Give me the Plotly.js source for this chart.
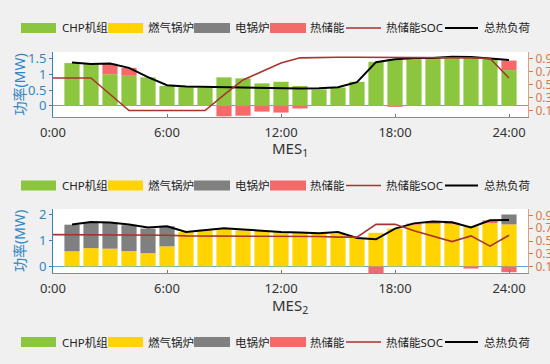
<!DOCTYPE html>
<html><head><meta charset="utf-8">
<script src="https://cdn.plot.ly/plotly-3.0.1.min.js"></script>
<style>html,body{margin:0;padding:0;background:#f0f0f0;} #chart{width:550px;height:364px;}</style>
</head><body><div id="chart"></div>
<script>
// ---- data ----
const hours = [1,2,3,4,5,6,7,8,9,10,11,12,13,14,15,16,17,18,19,20,21,22,23,24];
const socHours = [0,1,2,3,4,5,6,7,8,9,10,11,12,13,14,15,16,17,18,19,20,21,22,23,24];
const tickVals = [0,6,12,18,24];
const tickText = ['0:00','6:00','12:00','18:00','24:00'];
const seriesNames = ['CHP机组','燃气锅炉','电锅炉','热储能','热储能SOC','总热负荷'];

// MES1
const mes1CHP   = [1.35,1.32,1.00,0.95,0.90,0.63,0.59,0.57,0.90,0.87,0.71,0.76,0.63,0.52,0.58,0.76,1.39,1.48,1.51,1.51,1.53,1.53,1.50,1.13];
const mes1Gas   = [0,0,0,0,0,0,0,0,0,0,0,0,0,0,0,0,0,0,0,0,0,0,0,0];
const mes1Elec  = [0,0,0,0,0,0,0,0,0,0,0,0,0,0,0,0,0,0,0,0,0,0,0,0];
const mes1Store = [0,0,0.33,0.25,0,0,0,0,-0.33,-0.31,-0.18,-0.21,-0.08,0,0,0,0,-0.03,0,0,0,0,0,0.30];
const mes1Load  = [1.37,1.32,1.34,1.20,0.91,0.65,0.61,0.60,0.58,0.57,0.56,0.55,0.55,0.56,0.59,0.75,1.38,1.47,1.51,1.51,1.55,1.54,1.50,1.45];
const mes1SOC   = [0.60,0.60,0.60,0.35,0.10,0.10,0.10,0.10,0.10,0.34,0.57,0.70,0.83,0.91,0.92,0.92,0.92,0.92,0.92,0.92,0.92,0.92,0.91,0.90,0.60];

// MES2
const mes2CHP   = [0,0,0,0,0,0,0,0,0,0,0,0,0,0,0,0,0,0,0,0,0,0,0,0];
const mes2Gas   = [0.58,0.70,0.68,0.59,0.51,0.77,1.32,1.41,1.45,1.38,1.36,1.32,1.30,1.25,1.25,1.10,1.29,1.45,1.60,1.63,1.62,1.54,1.66,1.61];
const mes2Elec  = [1.02,1.00,1.00,0.99,0.94,0.77,0,0,0,0,0,0,0,0,0,0,0,0,0,0,0,0,0,0.38];
const mes2Store = [0,0,0,0,0,0,0,0,0,0,0,0,0,0,0,0,-0.25,0,0.04,0.06,0.05,-0.08,0.10,-0.22];
const mes2Load  = [1.61,1.70,1.68,1.61,1.49,1.54,1.32,1.38,1.46,1.42,1.36,1.32,1.30,1.27,1.32,1.09,1.04,1.45,1.65,1.72,1.69,1.49,1.77,1.78];
const mes2SOC   = [0.60,0.60,0.60,0.59,0.59,0.59,0.59,0.58,0.58,0.58,0.58,0.58,0.57,0.57,0.57,0.56,0.56,0.76,0.76,0.66,0.57,0.49,0.58,0.42,0.59];

// ---- style ----
const colors = ['#8cc63e','#ffd400','#808080','#f36a6a','#aa3330','#000000'];
const blue = '#2f86c5';
const orange = '#d9794a';
const W = 550, H = 364;
const px = x => x / W;
const py = y => 1 - y / H;
const FONT = 'Noto Sans, Noto Sans CJK SC, sans-serif';

function barTraces(xa, ya, sets) {
  return sets.map((vals, i) => ({
    type: 'bar', x: hours, y: vals, name: seriesNames[i], xaxis: xa, yaxis: ya,
    marker: {color: colors[i], line: {width: 0}}, showlegend: false, hoverinfo: 'skip'
  }));
}
const traces = [
  ...barTraces('x','y',[mes1CHP,mes1Gas,mes1Elec,mes1Store]),
  {type:'scatter', mode:'lines', x: socHours, y: mes1SOC, xaxis:'x', yaxis:'y2', name: seriesNames[4],
   line:{color: colors[4], width: 1.6}, showlegend:false},
  {type:'scatter', mode:'lines', x: hours, y: mes1Load, xaxis:'x', yaxis:'y', name: seriesNames[5],
   line:{color: colors[5], width: 2}, showlegend:false},
  ...barTraces('x2','y3',[mes2CHP,mes2Gas,mes2Elec,mes2Store]),
  {type:'scatter', mode:'lines', x: socHours, y: mes2SOC, xaxis:'x2', yaxis:'y4', name: seriesNames[4],
   line:{color: colors[4], width: 1.6}, showlegend:false},
  {type:'scatter', mode:'lines', x: hours, y: mes2Load, xaxis:'x2', yaxis:'y3', name: seriesNames[5],
   line:{color: colors[5], width: 2}, showlegend:false}
];

const xDom = [px(53), px(528)];
const dom1 = [py(117), py(52)];
const dom2 = [py(273), py(209)];

function xAxis(anchor) {
  return {domain: xDom, anchor: anchor, range: [0,25], tickvals: tickVals, ticktext: tickText,
    ticks: 'inside', ticklen: 3, tickcolor: '#777', showline: true, linecolor: '#8c8c8c', linewidth: 1,
    showgrid: false, zeroline: false, tickfont: {family: FONT, size: 13, color: '#333'},
    ticklabelstandoff: 3, fixedrange: true};
}
function yLeft(domain, range, tv, anchor) {
  return {domain: domain, anchor: anchor, range: range, tickvals: tv, ticktext: tv.map(String),
    ticks: 'outside', ticklen: 3, tickcolor: blue, showline: true, linecolor: blue, linewidth: 1,
    showgrid: false, zeroline: true, zerolinecolor: '#5ba8de', zerolinewidth: 1,
    tickfont: {family: FONT, size: 13, color: blue}, fixedrange: true};
}
function yRight(over, anchor) {
  const tv = [0.1,0.3,0.5,0.7,0.9];
  return {overlaying: over, side: 'right', anchor: anchor, range: [0,1], tickvals: tv, ticktext: tv.map(String),
    ticks: 'outside', ticklen: 4, tickcolor: orange, showline: true, linecolor: '#e0a07c', linewidth: 1,
    showgrid: false, zeroline: false, tickfont: {family: FONT, size: 12, color: orange}, fixedrange: true};
}

// custom legends
const shapes = [];
const annotations = [];
const rectItems = [[21,56],[108,143],[194,230],[270,306]];
const lineItems = [[346,381],[445,478]];
const textX = [60,146,233,308,384,482];
[28, 185.5, 342].forEach(yc => {
  rectItems.forEach((r, i) => shapes.push({type:'rect', xref:'paper', yref:'paper',
    x0: px(r[0]), x1: px(r[1]), y0: py(yc+5), y1: py(yc-5), fillcolor: colors[i], line:{width:0}}));
  lineItems.forEach((l, j) => shapes.push({type:'line', xref:'paper', yref:'paper',
    x0: px(l[0]), x1: px(l[1]), y0: py(yc), y1: py(yc), line:{color: colors[4+j], width: j===0?1.6:2}}));
  seriesNames.forEach((n, i) => annotations.push({xref:'paper', yref:'paper', x: px(textX[i]), y: py(yc),
    xanchor:'left', yanchor:'middle', text: n, showarrow:false, font:{family: FONT, size: 11.5, color:'#222'}}));
});
// axis titles
[[84.5],[241]].forEach(([yc]) => annotations.push({xref:'paper', yref:'paper', x: px(19), y: py(yc),
  xanchor:'center', yanchor:'middle', text:'功率(MW)', textangle:-90, showarrow:false,
  font:{family: FONT, size: 14, color: blue}}));
annotations.push({xref:'paper', yref:'paper', x: px(290), y: py(149), xanchor:'center', yanchor:'middle',
  text:'MES<sub>1</sub>', showarrow:false, font:{family: FONT, size: 15, color:'#333'}});
annotations.push({xref:'paper', yref:'paper', x: px(290), y: py(306), xanchor:'center', yanchor:'middle',
  text:'MES<sub>2</sub>', showarrow:false, font:{family: FONT, size: 15, color:'#333'}});

const layout = {
  width: W, height: H, autosize: false,
  margin: {l:0, r:0, t:0, b:0, pad:0},
  paper_bgcolor: '#f0f0f0', plot_bgcolor: '#ffffff',
  barmode: 'relative', bargap: 0.2,
  showlegend: false,
  xaxis: xAxis('y'),
  yaxis: yLeft(dom1, [-0.35,1.7], [0,0.5,1,1.5], 'x'),
  yaxis2: yRight('y', 'x'),
  xaxis2: xAxis('y3'),
  yaxis3: yLeft(dom2, [-0.25,2.2], [0,1,2], 'x2'),
  yaxis4: yRight('y3', 'x2'),
  shapes: shapes, annotations: annotations,
  font: {family: FONT}
};
Plotly.newPlot('chart', traces, layout, {staticPlot: true, displayModeBar: false});
</script></body></html>
